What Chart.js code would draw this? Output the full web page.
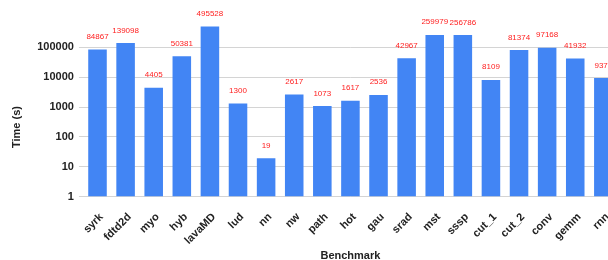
<!DOCTYPE html>
<html>
<head>
<meta charset="utf-8">
<script src="https://cdn.jsdelivr.net/npm/chart.js@4/dist/chart.umd.min.js"></script>
<style>
  html, body { margin: 0; padding: 0; background: #fff; overflow: hidden; }
  #wrap { width: 630px; height: 260px; position: relative; }
</style>
</head>
<body>
<div id="wrap"><canvas id="timeChart"></canvas></div>
<script>
/* ---------- data ---------- */
const benchmarks = ['syrk', 'fdtd2d', 'myo', 'hyb', 'lavaMD', 'lud', 'nn', 'nw', 'path', 'hot',
                    'gau', 'srad', 'mst', 'sssp', 'cut_1', 'cut_2', 'conv', 'gemm', 'rnn'];
const times      = [84867, 139098, 4405, 50381, 495528, 1300, 19, 2617, 1073, 1617,
                    2536, 42967, 259979, 256786, 8109, 81374, 97168, 41932, 9370];
const yTicks     = [1, 10, 100, 1000, 10000, 100000];

const FONT = '"Liberation Sans", Arial, sans-serif';

/* value labels above each bar */
const valueLabels = {
  id: 'valueLabels',
  afterDatasetsDraw(chart) {
    const ctx = chart.ctx;
    const meta = chart.getDatasetMeta(0);
    ctx.save();
    ctx.font = '8px ' + FONT;
    ctx.fillStyle = '#ff2020';
    ctx.textAlign = 'center';
    ctx.textBaseline = 'alphabetic';
    meta.data.forEach((bar, i) => {
      ctx.fillText(String(times[i]), bar.x, bar.y - 10.5);
    });
    ctx.restore();
  }
};

/* axis titles, placed like the original */
const axisTitles = {
  id: 'axisTitles',
  afterDraw(chart) {
    const ctx = chart.ctx, a = chart.chartArea;
    ctx.save();
    ctx.font = 'bold 11px ' + FONT;
    ctx.fillStyle = '#222';
    ctx.textAlign = 'center';
    ctx.textBaseline = 'middle';
    ctx.fillText('Benchmark', (a.left + a.right) / 2, 255.5);
    ctx.translate(17, 127);
    ctx.rotate(-Math.PI / 2);
    ctx.fillText('Time (s)', 0, 0);
    ctx.restore();
  }
};

new Chart(document.getElementById('timeChart'), {
  type: 'bar',
  data: {
    labels: benchmarks,
    datasets: [{
      data: times,
      backgroundColor: '#4285f4',
      borderWidth: 0,
      barPercentage: 0.66,
      categoryPercentage: 1
    }]
  },
  options: {
    responsive: true,
    maintainAspectRatio: false,
    animation: false,
    layout: { padding: { top: 17.5, right: 12.6, left: 0, bottom: 0 } },
    plugins: { legend: { display: false }, tooltip: { enabled: false } },
    scales: {
      x: {
        grid: { display: false },
        border: { display: false },
        ticks: {
          autoSkip: false,
          minRotation: 45,
          maxRotation: 45,
          padding: 6,
          labelOffset: 4,
          color: '#222',
          font: { family: FONT, size: 11, weight: 'bold' }
        },
        afterFit: s => { s.height = 63.5; }
      },
      y: {
        type: 'logarithmic',
        min: 1,
        max: 1000000,
        border: { display: false },
        grid: { color: '#d4d4d4', tickLength: 4.5, drawTicks: true },
        afterBuildTicks: s => { s.ticks = yTicks.map(v => ({ value: v })); },
        afterFit: s => { s.width = 83.45; },
        ticks: {
          padding: 5,
          color: '#222',
          font: { family: FONT, size: 11, weight: 'bold' },
          callback: v => String(v)
        }
      }
    }
  },
  plugins: [valueLabels, axisTitles]
});
</script>
</body>
</html>
